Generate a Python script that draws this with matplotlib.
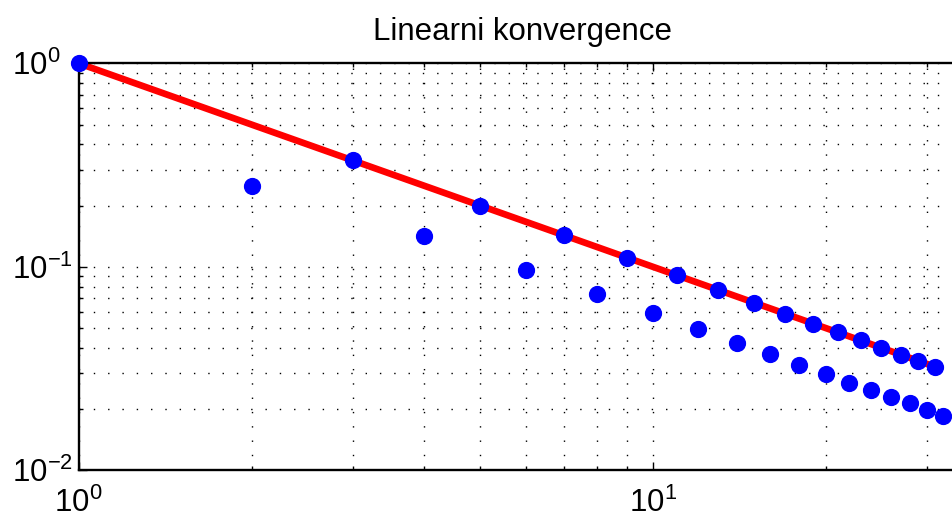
import matplotlib
matplotlib.use("Agg")
import matplotlib.pyplot as plt
from matplotlib.ticker import LogLocator, NullFormatter

plt.rcParams['font.family'] = ['Liberation Sans', 'DejaVu Sans']
plt.rcParams['mathtext.fontset'] = 'custom'
plt.rcParams['mathtext.rm'] = 'Liberation Sans'
plt.rcParams['mathtext.default'] = 'regular'

# iterace a chyba
n_vals = [1, 2, 3, 4, 5, 6, 7, 8, 9, 10, 11, 12, 13, 14, 15, 16,
          17, 18, 19, 20, 21, 22, 23, 24, 25, 26, 27, 28, 29, 30, 31, 32]
err_vals = [1.0, 0.25, 0.333, 0.142, 0.2, 0.0965, 0.143, 0.0733,
            0.111, 0.0591, 0.0909, 0.0493, 0.0769, 0.0424, 0.0667, 0.0372,
            0.0588, 0.0329, 0.0526, 0.0296, 0.0476, 0.0270, 0.0435, 0.0247,
            0.04, 0.0229, 0.037, 0.0213, 0.0345, 0.0198, 0.0323, 0.0185]

# referencni primka 1/n
ref_x = [1, 32]
ref_y = [1.0, 0.03125]

title = "Linearni konvergence"

W, H = 952, 520
fs = 22.5
fig = plt.figure(figsize=(W / 100, H / 100), dpi=100)
# osy jsou schvalne sirsi nez obrazek, prava cast je oriznuta
ax = fig.add_axes([78.7 / W, (H - 470.3) / H, 888 / W, 407 / H])

ax.loglog(ref_x, ref_y, '-', color=(1, 0, 0), lw=4.8, solid_capstyle='butt')
ax.loglog(n_vals, err_vals, 'o', color=(0, 0, 1), ms=11.4, mec=(0, 0, 1),
          clip_on=False, zorder=5)

ax.set_xlim(1, 35.2)
ax.set_ylim(1e-2, 1)

ax.xaxis.set_major_locator(LogLocator(base=10))
ax.xaxis.set_minor_locator(LogLocator(base=10, subs=range(2, 10)))
ax.yaxis.set_major_locator(LogLocator(base=10))
ax.yaxis.set_minor_locator(LogLocator(base=10, subs=range(2, 10)))
ax.xaxis.set_minor_formatter(NullFormatter())
ax.yaxis.set_minor_formatter(NullFormatter())

ax.grid(True, which='both', color='k', lw=1.0, linestyle=(0, (1, 9.3)))

for s in ax.spines.values():
    s.set_linewidth(1.7)

ax.tick_params(which='both', direction='in', top=True, right=True,
               labelsize=fs, width=1.0)
ax.tick_params(which='major', length=5.8)
ax.tick_params(which='minor', length=3.2)
ax.tick_params(axis='x', which='major', pad=12.5)
ax.tick_params(axis='y', which='major', pad=47.7)

# popisky osy y zarovnane vlevo
for t in ax.yaxis.get_major_ticks():
    t.label1.set_horizontalalignment('left')

fig.text(522.7 / W, (H - 40) / H, title, fontsize=fs,
         ha='center', va='baseline')

fig.savefig("out.png", dpi=100)
